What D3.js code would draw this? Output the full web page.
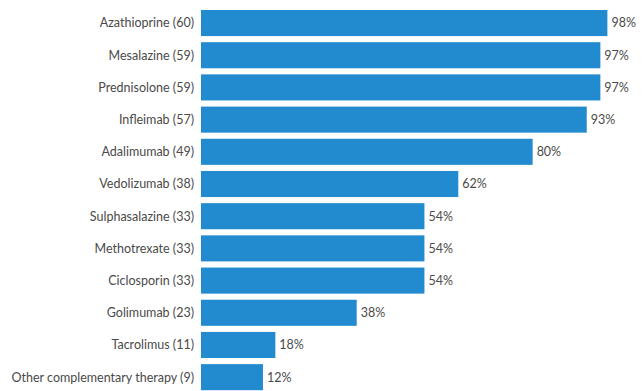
<!DOCTYPE html>
<html>
<head>
<meta charset="utf-8">
<script src="https://cdn.jsdelivr.net/npm/d3@7"></script>
<style>
  body { margin: 0; background: #fff; }
</style>
</head>
<body>
<div id="chart"></div>
<script>
// ─── Data ───
const drugs = ["Azathioprine", "Mesalazine", "Prednisolone", "Infleimab", "Adalimumab",
  "Vedolizumab", "Sulphasalazine", "Methotrexate", "Ciclosporin", "Golimumab",
  "Tacrolimus", "Other complementary therapy"];
const counts = [60, 59, 59, 57, 49, 38, 33, 33, 33, 23, 11, 9];
const barPct = [98.4, 96.7, 96.7, 93.4, 80.3, 62.3, 54.1, 54.1, 54.1, 37.7, 18.0, 15.0];
const pctLabels = ["98%", "97%", "97%", "93%", "80%", "62%", "54%", "54%", "54%", "38%", "18%", "12%"];

const width = 643, height = 391;
const rows = drugs.map((d, i) => ({
  label: `${d} (${counts[i]})`, value: barPct[i], text: pctLabels[i]
}));

const svg = d3.select("#chart").append("svg")
  .attr("width", width).attr("height", height);

svg.append("rect").attr("width", width).attr("height", height).attr("fill", "#fff");

const x = d3.scaleLinear().domain([0, 100]).range([201, 614]);
const y = d3.scaleBand().domain(rows.map(r => r.label))
  .range([10, 390.2]).paddingInner(0.19).paddingOuter(0);

// bars
svg.selectAll(".bar").data(rows).enter().append("rect")
  .attr("class", "bar")
  .attr("x", x(0))
  .attr("y", d => y(d.label))
  .attr("width", d => x(d.value) - x(0))
  .attr("height", y.bandwidth())
  .attr("fill", "#228bd0");

// category labels
svg.selectAll(".cat").data(rows).enter().append("text")
  .attr("class", "cat")
  .attr("x", x(0) - 7)
  .attr("y", d => y(d.label) + y.bandwidth() / 2)
  .attr("dy", "0.35em")
  .attr("text-anchor", "end")
  .attr("font-family", "Lato, 'Open Sans', sans-serif")
  .attr("font-size", 12.5)
  .attr("fill", "#4a4a4a")
  .text(d => d.label);

// value labels
svg.selectAll(".val").data(rows).enter().append("text")
  .attr("class", "val")
  .attr("x", d => x(d.value) + 4)
  .attr("y", d => y(d.label) + y.bandwidth() / 2)
  .attr("dy", "0.35em")
  .attr("font-family", "Lato, 'Open Sans', sans-serif")
  .attr("font-size", 12.5)
  .attr("fill", "#4a4a4a")
  .text(d => d.text);
</script>
</body>
</html>
